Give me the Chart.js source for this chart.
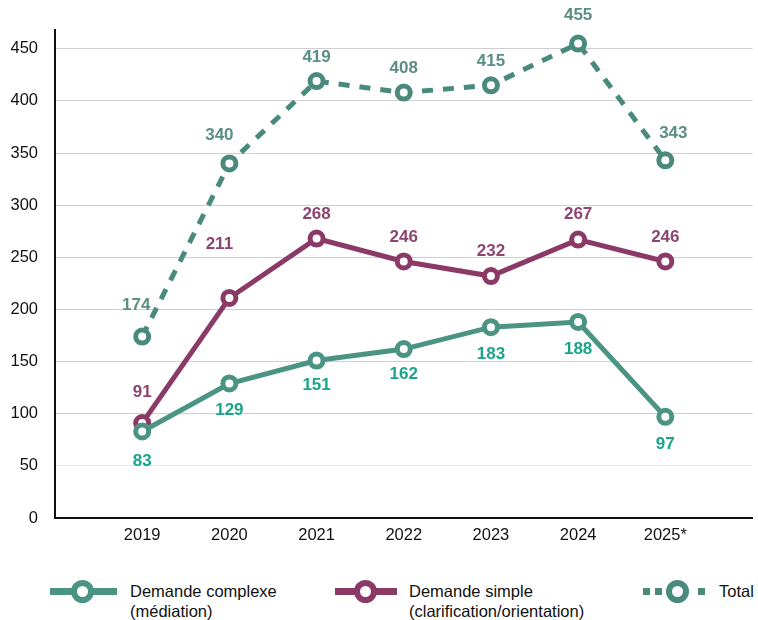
<!DOCTYPE html>
<html lang="fr">
<head>
<meta charset="utf-8">
<title>Demandes par année</title>
<script src="https://cdn.jsdelivr.net/npm/chart.js@4/dist/chart.umd.min.js"></script>
<style>
    body { margin: 0; background: #fff; font-family: "Liberation Sans", Arial, sans-serif; overflow: hidden; }
    #wrap { position: relative; width: 758px; height: 620px; overflow: hidden; }
    #chartBox { position: absolute; left: 0; top: 0; width: 764px; height: 560px; }
    .leg-line { position: absolute; height: 7px; }
    .leg-dot { position: absolute; width: 11px; height: 11px; border-radius: 50%; border: 6px solid; background: #fff; }
    .leg-sq { position: absolute; width: 7px; height: 7px; }
    .leg-text { position: absolute; font-size: 16.5px; line-height: 20px; color: #111; }
</style>
</head>
<body>
<div id="wrap">
    <div id="chartBox"><canvas id="demandesChart"></canvas></div>

    <!-- légende -->
    <div class="leg-line" style="left:50px; top:588px; width:67px; background:#4b9383;"></div>
    <div class="leg-dot" style="left:71px; top:580px; border-color:#4b9383;"></div>
    <div class="leg-text" style="left:130px; top:581px;">Demande complexe<br>(médiation)</div>

    <div class="leg-line" style="left:335px; top:588px; width:62px; background:#8b3a67;"></div>
    <div class="leg-dot" style="left:354px; top:580px; border-color:#8b3a67;"></div>
    <div class="leg-text" style="left:409px; top:581px;">Demande simple<br>(clarification/orientation)</div>

    <div class="leg-sq" style="left:643px; top:588px; background:#4a8a7d;"></div>
    <div class="leg-sq" style="left:655px; top:588px; background:#4a8a7d;"></div>
    <div class="leg-dot" style="left:666px; top:580px; border-color:#4a8a7d;"></div>
    <div class="leg-sq" style="left:698px; top:588px; background:#4a8a7d;"></div>
    <div class="leg-text" style="left:719px; top:581px;">Total</div>
</div>

<script>
// années et libellés de l'axe
const years = [2019, 2020, 2021, 2022, 2023, 2024, 2025];
const yearLabels = ['2019', '2020', '2021', '2022', '2023', '2024', '2025*'];

// séries
const complexe = [83, 129, 151, 162, 183, 188, 97];
const simple = [91, 211, 268, 246, 232, 267, 246];
const total = [174, 340, 419, 408, 415, 455, 343];

const yTicks = [0, 50, 100, 150, 200, 250, 300, 350, 400, 450];

// couleurs
const cComplexe = '#4b9383';
const cComplexeTxt = '#1aa58b';
const cSimple = '#8b3a67';
const cSimpleTxt = '#8e4470';
const cTotal = '#4a8a7d';
const cTotalTxt = '#5b8f84';

const fontFamily = '"Liberation Sans", Arial, sans-serif';

function toPoints(values) {
    return values.map((v, i) => ({ x: years[i], y: v }));
}

// étiquettes de valeurs au-dessus / en dessous des points
const valueLabels = {
    id: 'valueLabels',
    afterDatasetsDraw(chart) {
        const ctx = chart.ctx;
        ctx.save();
        ctx.font = 'bold 17px ' + fontFamily;
        ctx.textAlign = 'center';
        ctx.textBaseline = 'middle';
        chart.data.datasets.forEach((ds, di) => {
            const meta = chart.getDatasetMeta(di);
            ctx.fillStyle = ds.labelColor;
            meta.data.forEach((pt, i) => {
                const off = ds.labelOffsets[i];
                ctx.fillText(String(ds.data[i].y), pt.x + off[0], pt.y + off[1]);
            });
        });
        ctx.restore();
    }
};

const ctx = document.getElementById('demandesChart').getContext('2d');
new Chart(ctx, {
    type: 'line',
    data: {
        datasets: [
            {
                label: 'Demande complexe (médiation)',
                data: toPoints(complexe),
                borderColor: cComplexe,
                borderWidth: 5,
                pointRadius: 6.5,
                pointBorderWidth: 5,
                pointBackgroundColor: '#fff',
                pointBorderColor: cComplexe,
                order: 0,
                labelColor: cComplexeTxt,
                labelOffsets: [[0, 30], [0, 27], [0, 25], [0, 25], [0, 27], [0, 27], [0, 27]]
            },
            {
                label: 'Demande simple (clarification/orientation)',
                data: toPoints(simple),
                borderColor: cSimple,
                borderWidth: 5,
                pointRadius: 6.5,
                pointBorderWidth: 5,
                pointBackgroundColor: '#fff',
                pointBorderColor: cSimple,
                order: 1,
                labelColor: cSimpleTxt,
                labelOffsets: [[0, -31], [-10, -54], [0, -24], [0, -24], [0, -25], [0, -25], [0, -24]]
            },
            {
                label: 'Total',
                data: toPoints(total),
                borderColor: cTotal,
                borderWidth: 5,
                borderDash: [11, 10],
                pointRadius: 6.5,
                pointBorderWidth: 5,
                pointBackgroundColor: '#fff',
                pointBorderColor: cTotal,
                order: 2,
                labelColor: cTotalTxt,
                labelOffsets: [[-6, -31], [-10, -28], [0, -24], [0, -24], [0, -24], [0, -28], [8, -27]]
            }
        ]
    },
    options: {
        responsive: true,
        maintainAspectRatio: false,
        animation: false,
        layout: { padding: { top: 30, right: 0, left: 0, bottom: 0 } },
        plugins: {
            legend: { display: false },
            tooltip: { enabled: false }
        },
        scales: {
            x: {
                type: 'linear',
                min: 2018,
                max: 2026,
                afterBuildTicks: scale => { scale.ticks = years.map(y => ({ value: y })); },
                afterFit: scale => { scale.height = 42; },
                grid: { display: false, drawTicks: false },
                border: { display: true, color: '#111', width: 2 },
                ticks: {
                    padding: 8,
                    color: '#111',
                    font: { family: fontFamily, size: 16.5 },
                    callback: v => yearLabels[years.indexOf(v)] || ''
                }
            },
            y: {
                min: 0,
                max: 468,
                afterBuildTicks: scale => { scale.ticks = yTicks.map(v => ({ value: v })); },
                afterFit: scale => { scale.width = 55; },
                grid: {
                    drawTicks: false,
                    color: c => c.tick && c.tick.value === 50 ? '#e6e6e6' : '#cfcfcf',
                    lineWidth: 1
                },
                border: { display: true, color: '#111', width: 2 },
                ticks: {
                    padding: 17,
                    color: '#111',
                    font: { family: fontFamily, size: 16.5 }
                }
            }
        }
    },
    plugins: [valueLabels]
});
</script>
</body>
</html>
